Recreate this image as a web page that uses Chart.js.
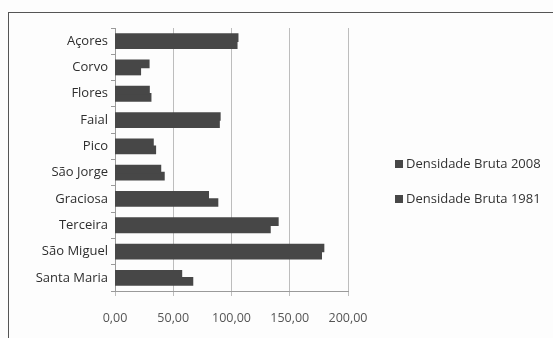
<!DOCTYPE html>
<html>
<head>
<meta charset="utf-8">
<script src="https://cdn.jsdelivr.net/npm/chart.js@4/dist/chart.umd.min.js"></script>
<style>
  html, body { margin: 0; padding: 0; background: #fdfdfd; overflow: hidden; }
  #wrap { position: relative; width: 553px; height: 338px; }
  #frame { position: absolute; left: 8px; top: 12px; width: 700px; height: 500px;
           border: 1.5px solid #555; box-sizing: border-box; }
  canvas { position: absolute; left: 0; top: 0; }
</style>
</head>
<body>
<div id="wrap">
  <div id="frame"></div>
  <canvas id="c" width="553" height="338"></canvas>
</div>
<script>
// Gross population density of the Azores islands (inhabitants per km²)
const islands = ['Açores', 'Corvo', 'Flores', 'Faial', 'Pico', 'São Jorge',
                 'Graciosa', 'Terceira', 'São Miguel', 'Santa Maria'];
const density2008 = [105.3, 29.0, 29.2, 90.0, 32.6, 39.0, 80.0, 139.8, 179.0, 57.0];
const density1981 = [104.5, 21.7, 30.6, 89.3, 34.6, 42.0, 88.0, 133.0, 177.0, 66.5];
const seriesNames = ['Densidade Bruta 2008', 'Densidade Bruta 1981'];
const xTicks = [0, 50, 100, 150, 200];

const FONT = '"Open Sans", "DejaVu Sans", sans-serif';
const BAR = '#474747';

// Legend drawn to the right of the plot, two stacked entries
const sideLegend = {
  id: 'sideLegend',
  afterDraw(chart) {
    const ctx = chart.ctx;
    ctx.save();
    ctx.font = '13px ' + FONT;
    ctx.textBaseline = 'middle';
    ctx.textAlign = 'left';
    chart.data.datasets.forEach((ds, i) => {
      const y = 164 + i * 35;
      ctx.fillStyle = ds.backgroundColor;
      ctx.fillRect(395, y - 4, 8, 8);
      ctx.fillStyle = '#333';
      ctx.fillText(ds.label, 406, y);
    });
    ctx.restore();
  }
};

new Chart(document.getElementById('c'), {
  type: 'bar',
  data: {
    labels: islands,
    datasets: [
      { label: seriesNames[0], data: density2008, backgroundColor: BAR },
      { label: seriesNames[1], data: density1981, backgroundColor: BAR }
    ]
  },
  options: {
    indexAxis: 'y',
    responsive: false,
    animation: false,
    devicePixelRatio: 1,
    layout: { padding: { top: 28, right: 205, bottom: 0, left: 0 } },
    datasets: { bar: { categoryPercentage: 0.54, barPercentage: 1.0, inflateAmount: 0.8, borderWidth: 0 } },
    plugins: { legend: { display: false }, tooltip: { enabled: false } },
    scales: {
      x: {
        min: 0, max: 200,
        afterBuildTicks(scale) { scale.ticks = xTicks.map(v => ({ value: v })); },
        afterFit(scale) { scale.height = 47; },
        grid: { color: '#bdbdbd', lineWidth: 1, tickLength: 5, drawOnChartArea: true },
        border: { color: '#9a9a9a', width: 1 },
        ticks: {
          color: '#555', padding: 15,
          font: { family: FONT, size: 12.5 },
          callback: v => v.toFixed(2).replace('.', ',')
        }
      },
      y: {
        afterFit(scale) { scale.width = 115; },
        grid: { drawOnChartArea: false, tickLength: 4, color: '#9a9a9a', offset: true },
        border: { color: '#9a9a9a', width: 1 },
        ticks: { color: '#2e2e2e', padding: 3, font: { family: FONT, size: 13 } }
      }
    }
  },
  plugins: [sideLegend]
});
</script>
</body>
</html>
